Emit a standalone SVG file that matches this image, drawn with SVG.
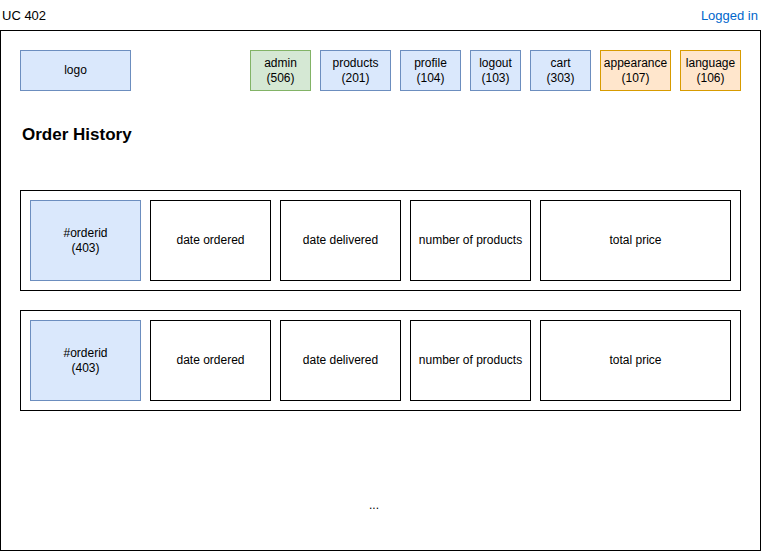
<svg xmlns="http://www.w3.org/2000/svg" width="761" height="551" viewBox="0 0 761 551">
<style>
text{font-family:"Liberation Sans",Arial,Helvetica,sans-serif;font-size:12px;fill:#000;}
.c{text-anchor:middle;}
.blue{fill:#dae8fc;stroke:#6c8ebf;stroke-width:1;}
.green{fill:#d5e8d4;stroke:#82b366;stroke-width:1;}
.orange{fill:#ffe6cc;stroke:#d79b00;stroke-width:1;}
.plain{fill:#fff;stroke:#000;stroke-width:1;}
</style>
<rect x="0" y="0" width="761" height="551" fill="#fff"/>
<text x="2" y="20" style="font-size:13px">UC 402</text>
<text x="758" y="20" style="font-size:13px;fill:#0066cc;text-anchor:end">Logged in</text>
<g id="frame"><rect class="plain" x="0.5" y="30.5" width="760" height="520"/></g>
<g id="logo"><rect class="blue" x="20.5" y="50.5" width="110" height="40"/><text class="c" x="75.5" y="73.5">logo</text></g>
<g id="admin"><rect class="green" x="250.5" y="50.5" width="60" height="40"/><text class="c" x="280.5" y="67">admin</text><text class="c" x="280.5" y="82">(506)</text></g>
<g id="products"><rect class="blue" x="320.5" y="50.5" width="70" height="40"/><text class="c" x="355.5" y="67">products</text><text class="c" x="355.5" y="82">(201)</text></g>
<g id="profile"><rect class="blue" x="400.5" y="50.5" width="60" height="40"/><text class="c" x="430.5" y="67">profile</text><text class="c" x="430.5" y="82">(104)</text></g>
<g id="logout"><rect class="blue" x="470.5" y="50.5" width="50" height="40"/><text class="c" x="495.5" y="67">logout</text><text class="c" x="495.5" y="82">(103)</text></g>
<g id="cart"><rect class="blue" x="530.5" y="50.5" width="60" height="40"/><text class="c" x="560.5" y="67">cart</text><text class="c" x="560.5" y="82">(303)</text></g>
<g id="appearance"><rect class="orange" x="600.5" y="50.5" width="70" height="40"/><text class="c" x="635.5" y="67">appearance</text><text class="c" x="635.5" y="82">(107)</text></g>
<g id="language"><rect class="orange" x="680.5" y="50.5" width="60" height="40"/><text class="c" x="710.5" y="67">language</text><text class="c" x="710.5" y="82">(106)</text></g>
<text x="22" y="140" style="font-size:17px;font-weight:bold">Order History</text>
<g id="row1">
<rect class="plain" x="20.5" y="190.5" width="720" height="100"/>
<rect class="blue" x="30.5" y="200.5" width="110" height="80"/><text class="c" x="85.5" y="237">#orderid</text><text class="c" x="85.5" y="252">(403)</text>
<rect class="plain" x="150.5" y="200.5" width="120" height="80"/><text class="c" x="210.5" y="243.5">date ordered</text>
<rect class="plain" x="280.5" y="200.5" width="120" height="80"/><text class="c" x="340.5" y="243.5">date delivered</text>
<rect class="plain" x="410.5" y="200.5" width="120" height="80"/><text class="c" x="470.5" y="243.5">number of products</text>
<rect class="plain" x="540.5" y="200.5" width="190" height="80"/><text class="c" x="635.5" y="243.5">total price</text>
</g>
<g id="row2">
<rect class="plain" x="20.5" y="310.5" width="720" height="100"/>
<rect class="blue" x="30.5" y="320.5" width="110" height="80"/><text class="c" x="85.5" y="357">#orderid</text><text class="c" x="85.5" y="372">(403)</text>
<rect class="plain" x="150.5" y="320.5" width="120" height="80"/><text class="c" x="210.5" y="363.5">date ordered</text>
<rect class="plain" x="280.5" y="320.5" width="120" height="80"/><text class="c" x="340.5" y="363.5">date delivered</text>
<rect class="plain" x="410.5" y="320.5" width="120" height="80"/><text class="c" x="470.5" y="363.5">number of products</text>
<rect class="plain" x="540.5" y="320.5" width="190" height="80"/><text class="c" x="635.5" y="363.5">total price</text>
</g>
<text class="c" x="374" y="509">...</text>
<g id="connectors"></g>
</svg>
